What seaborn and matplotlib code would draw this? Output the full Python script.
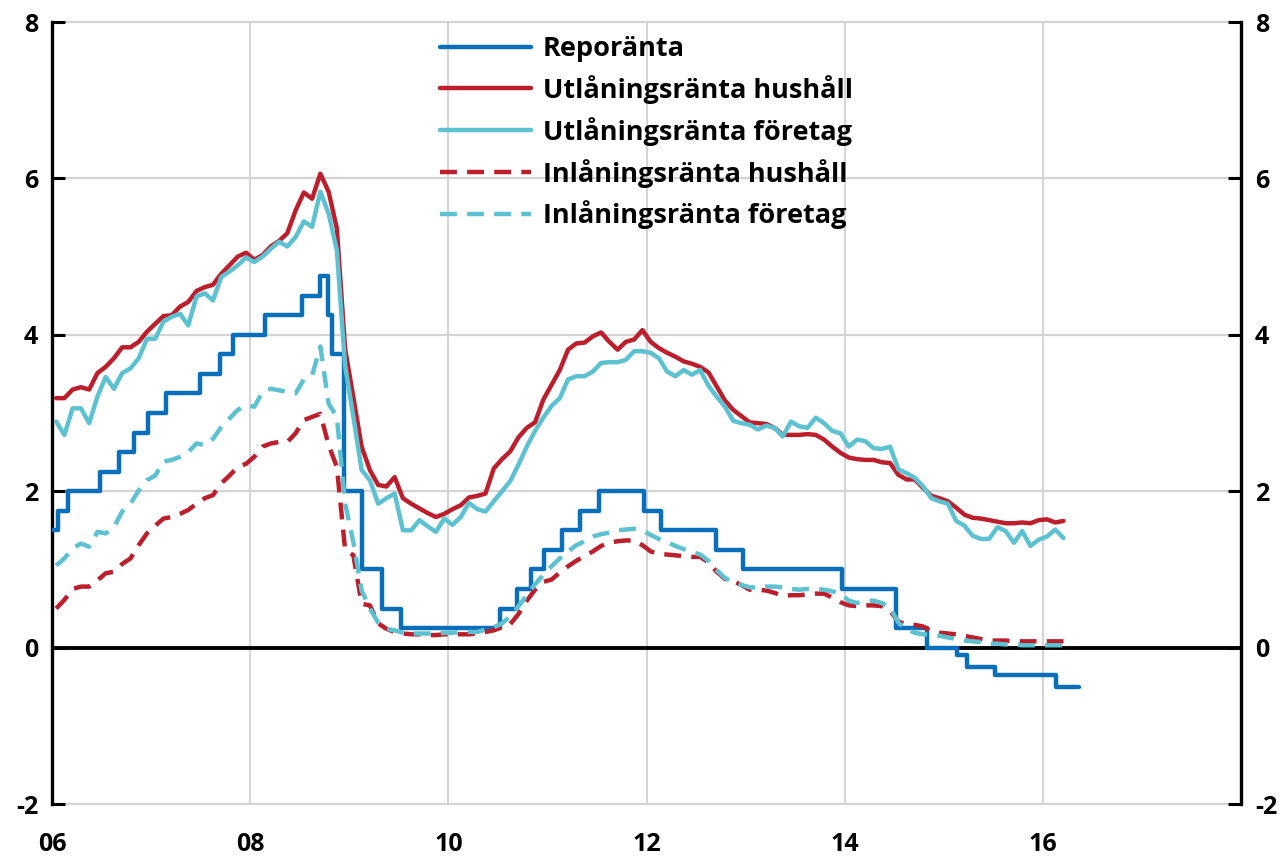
import numpy as np
import pandas as pd
import matplotlib
matplotlib.use("Agg")
import matplotlib.pyplot as plt
import seaborn as sns

# ---------------- data ----------------
start_year = 2006  # monthly series start January 2006

utl_hushall = [3.19, 3.19, 3.30, 3.33, 3.30, 3.51, 3.59, 3.70, 3.84, 3.84,
               3.91, 4.04, 4.14, 4.24, 4.25, 4.36, 4.42, 4.56, 4.61, 4.64,
               4.78, 4.89, 5.00, 5.05, 4.96, 5.02, 5.13, 5.20, 5.30, 5.59,
               5.82, 5.74, 6.06, 5.83, 5.36, 3.82, 3.20, 2.57, 2.27, 2.08,
               2.06, 2.18, 1.91, 1.84, 1.78, 1.72, 1.67, 1.71, 1.77, 1.82,
               1.92, 1.94, 1.97, 2.29, 2.41, 2.51, 2.69, 2.81, 2.88, 3.17,
               3.36, 3.55, 3.81, 3.89, 3.90, 3.98, 4.03, 3.91, 3.81, 3.91,
               3.94, 4.06, 3.91, 3.83, 3.77, 3.72, 3.66, 3.63, 3.59, 3.52,
               3.34, 3.16, 3.04, 2.96, 2.88, 2.87, 2.86, 2.81, 2.72, 2.72,
               2.72, 2.73, 2.72, 2.66, 2.57, 2.49, 2.43, 2.41, 2.40, 2.40,
               2.37, 2.36, 2.21, 2.15, 2.15, 2.04, 1.94, 1.91, 1.87, 1.79,
               1.70, 1.66, 1.65, 1.63, 1.61, 1.59, 1.59, 1.60, 1.59, 1.63,
               1.64, 1.60, 1.62]

utl_foretag = [2.89, 2.72, 3.06, 3.06, 2.87, 3.21, 3.46, 3.31, 3.51, 3.57,
               3.70, 3.95, 3.95, 4.17, 4.23, 4.27, 4.12, 4.49, 4.53, 4.44,
               4.74, 4.81, 4.89, 4.99, 4.93, 5.00, 5.10, 5.19, 5.13, 5.25,
               5.45, 5.38, 5.83, 5.55, 5.08, 3.60, 2.95, 2.27, 2.14, 1.84,
               1.91, 1.97, 1.50, 1.50, 1.63, 1.55, 1.48, 1.65, 1.57, 1.67,
               1.85, 1.77, 1.74, 1.87, 2.00, 2.13, 2.34, 2.57, 2.77, 2.94,
               3.09, 3.19, 3.43, 3.47, 3.47, 3.53, 3.64, 3.65, 3.65, 3.68,
               3.79, 3.79, 3.77, 3.70, 3.53, 3.47, 3.55, 3.49, 3.55, 3.35,
               3.21, 3.08, 2.90, 2.87, 2.85, 2.79, 2.84, 2.81, 2.70, 2.89,
               2.83, 2.81, 2.94, 2.87, 2.77, 2.74, 2.57, 2.66, 2.64, 2.55,
               2.54, 2.57, 2.28, 2.23, 2.17, 2.06, 1.91, 1.87, 1.84, 1.62,
               1.56, 1.43, 1.39, 1.39, 1.54, 1.49, 1.34, 1.49, 1.30, 1.38,
               1.42, 1.51, 1.40]

inl_hushall = [0.50, 0.61, 0.75, 0.78, 0.78, 0.86, 0.95, 0.97, 1.07, 1.14,
               1.31, 1.46, 1.56, 1.65, 1.67, 1.71, 1.76, 1.84, 1.91, 1.95,
               2.10, 2.20, 2.31, 2.35, 2.44, 2.57, 2.61, 2.63, 2.63, 2.74,
               2.91, 2.95, 2.99, 2.59, 2.31, 1.25, 1.18, 0.56, 0.54, 0.31,
               0.24, 0.20, 0.18, 0.17, 0.17, 0.16, 0.16, 0.17, 0.17, 0.17,
               0.17, 0.18, 0.20, 0.22, 0.26, 0.30, 0.43, 0.60, 0.74, 0.84,
               0.87, 0.96, 1.04, 1.11, 1.17, 1.23, 1.30, 1.34, 1.36, 1.37,
               1.37, 1.31, 1.23, 1.20, 1.19, 1.18, 1.17, 1.16, 1.16, 1.09,
               0.97, 0.88, 0.85, 0.80, 0.74, 0.74, 0.73, 0.70, 0.66, 0.67,
               0.67, 0.68, 0.69, 0.69, 0.64, 0.58, 0.54, 0.53, 0.54, 0.54,
               0.53, 0.47, 0.33, 0.30, 0.29, 0.27, 0.21, 0.19, 0.18, 0.17,
               0.15, 0.13, 0.11, 0.09, 0.09, 0.09, 0.08, 0.08, 0.08, 0.08,
               0.08, 0.08, 0.08]

inl_foretag = [1.05, 1.14, 1.27, 1.33, 1.29, 1.48, 1.46, 1.54, 1.74, 1.84,
               2.01, 2.14, 2.20, 2.38, 2.40, 2.44, 2.50, 2.61, 2.59, 2.67,
               2.82, 2.93, 3.04, 3.10, 3.08, 3.27, 3.31, 3.29, 3.27, 3.25,
               3.43, 3.48, 3.85, 3.12, 2.95, 1.84, 1.35, 0.73, 0.50, 0.32,
               0.24, 0.22, 0.19, 0.18, 0.18, 0.18, 0.18, 0.19, 0.19, 0.20,
               0.20, 0.20, 0.23, 0.26, 0.31, 0.40, 0.53, 0.67, 0.81, 0.93,
               1.04, 1.14, 1.23, 1.31, 1.36, 1.42, 1.45, 1.47, 1.50, 1.51,
               1.52, 1.50, 1.44, 1.39, 1.35, 1.30, 1.26, 1.22, 1.19, 1.11,
               0.99, 0.89, 0.84, 0.80, 0.77, 0.77, 0.78, 0.78, 0.77, 0.75,
               0.74, 0.75, 0.75, 0.74, 0.72, 0.69, 0.60, 0.57, 0.60, 0.60,
               0.57, 0.51, 0.32, 0.23, 0.19, 0.17, 0.16, 0.15, 0.13, 0.11,
               0.09, 0.08, 0.07, 0.05, 0.05, 0.04, 0.04, 0.03, 0.03, 0.03,
               0.03, 0.03, 0.03]

# Repo rate: change dates (decimal years) and levels (steps-post)
repo_dates = [2006.00, 2006.06, 2006.16, 2006.48, 2006.68, 2006.83, 2006.97,
              2007.15, 2007.49, 2007.70, 2007.83, 2008.15, 2008.52, 2008.70,
              2008.79, 2008.83, 2008.95, 2009.13, 2009.33, 2009.52, 2010.52,
              2010.69, 2010.83, 2010.97, 2011.15, 2011.33, 2011.52, 2011.97,
              2012.15, 2012.70, 2012.97, 2013.97, 2014.52, 2014.83, 2015.13,
              2015.23, 2015.52, 2016.13, 2016.37]
repo_rates = [1.50, 1.75, 2.00, 2.25, 2.50, 2.75, 3.00,
              3.25, 3.50, 3.75, 4.00, 4.25, 4.50, 4.75,
              4.25, 3.75, 2.00, 1.00, 0.50, 0.25, 0.50,
              0.75, 1.00, 1.25, 1.50, 1.75, 2.00, 1.75,
              1.50, 1.25, 1.00, 0.75, 0.25, 0.00, -0.10,
              -0.25, -0.35, -0.50, -0.50]

labels = ["Reporänta", "Utlåningsränta hushåll", "Utlåningsränta företag",
          "Inlåningsränta hushåll", "Inlåningsränta företag"]
x_ticks = [2006, 2008, 2010, 2012, 2014, 2016, 2018]
x_ticklabels = ["06", "08", "10", "12", "14", "16", ""]
y_ticks = [-2, 0, 2, 4, 6, 8]

# ---------------- build frames ----------------
n = len(utl_hushall)
months = start_year + (np.arange(n) + 0.5) / 12.0
monthly = pd.DataFrame({"x": months,
                        labels[1]: utl_hushall,
                        labels[2]: utl_foretag,
                        labels[3]: inl_hushall,
                        labels[4]: inl_foretag})
repo = pd.DataFrame({"x": repo_dates, "y": repo_rates})

# ---------------- style ----------------
sns.set_theme(style="white")
FONT = ["Open Sans", "DejaVu Sans"]
plt.rcParams["font.family"] = FONT
plt.rcParams["font.weight"] = "bold"
plt.rcParams["text.color"] = "black"

BLUE = "#0A6FBA"
RED = "#BC1E2C"
CYAN = "#5CC1D1"
LW = 3.2
DASH = (0, (3.8, 2.3))
FS = 18
LFS = 19.5

fig = plt.figure(figsize=(12.86, 8.59), dpi=100)
ax = fig.add_axes([52 / 1286, 1 - 804 / 859, (1241 - 52) / 1286, (804 - 22) / 859])

# grid
for xv in x_ticks:
    ax.axvline(xv, color="#D4D4D4", lw=1.4, zorder=0)
for yv in y_ticks:
    if yv != 0:
        ax.axhline(yv, color="#D4D4D4", lw=1.6, zorder=0, clip_on=False)
ax.axhline(0, color="black", lw=2.8, zorder=1)

sns.lineplot(data=repo, x="x", y="y", ax=ax, color=BLUE, lw=LW,
             drawstyle="steps-post", label=labels[0], zorder=3)
sns.lineplot(data=monthly, x="x", y=labels[1], ax=ax, color=RED, lw=LW,
             label=labels[1], zorder=3)
sns.lineplot(data=monthly, x="x", y=labels[2], ax=ax, color=CYAN, lw=LW,
             label=labels[2], zorder=3)
sns.lineplot(data=monthly, x="x", y=labels[3], ax=ax, color=RED, lw=LW,
             linestyle=DASH, label=labels[3], zorder=3)
sns.lineplot(data=monthly, x="x", y=labels[4], ax=ax, color=CYAN, lw=LW,
             linestyle=DASH, label=labels[4], zorder=3)

ax.set_xlim(2006, 2018)
ax.set_ylim(-2, 8)
ax.set_xlabel("")
ax.set_ylabel("")
ax.set_xticks(x_ticks)
ax.set_xticklabels(x_ticklabels)
ax.set_yticks(y_ticks)
ax.set_yticklabels([str(v) for v in y_ticks])

for s in ["top", "bottom"]:
    ax.spines[s].set_visible(False)
for s in ["left", "right"]:
    ax.spines[s].set_visible(True)
    ax.spines[s].set_color("black")
    ax.spines[s].set_linewidth(2.4)

ax.tick_params(axis="y", which="both", left=True, right=True,
               labelleft=True, labelright=True, direction="in",
               length=9.5, width=2.2, color="black", pad=10,
               labelsize=FS, labelcolor="black")
ax.tick_params(axis="x", length=0, pad=20, labelsize=FS, labelcolor="black")
for t in ax.yaxis.get_major_ticks():
    t.label1.set_fontweight("bold")
    t.label2.set_fontweight("bold")
for t in ax.xaxis.get_major_ticks():
    t.label1.set_fontweight("bold")

leg = ax.legend(loc="upper left", bbox_to_anchor=(440 / 1286, 1 - 36 / 859),
                bbox_transform=fig.transFigure, frameon=False,
                prop={"family": FONT, "size": LFS, "weight": "bold"},
                labelcolor="black",
                handlelength=3.35, handletextpad=0.45, labelspacing=0.48,
                borderpad=0, borderaxespad=0)
for lh in leg.get_lines():
    lh.set_linewidth(LW)

fig.savefig("out.png", dpi=100)
